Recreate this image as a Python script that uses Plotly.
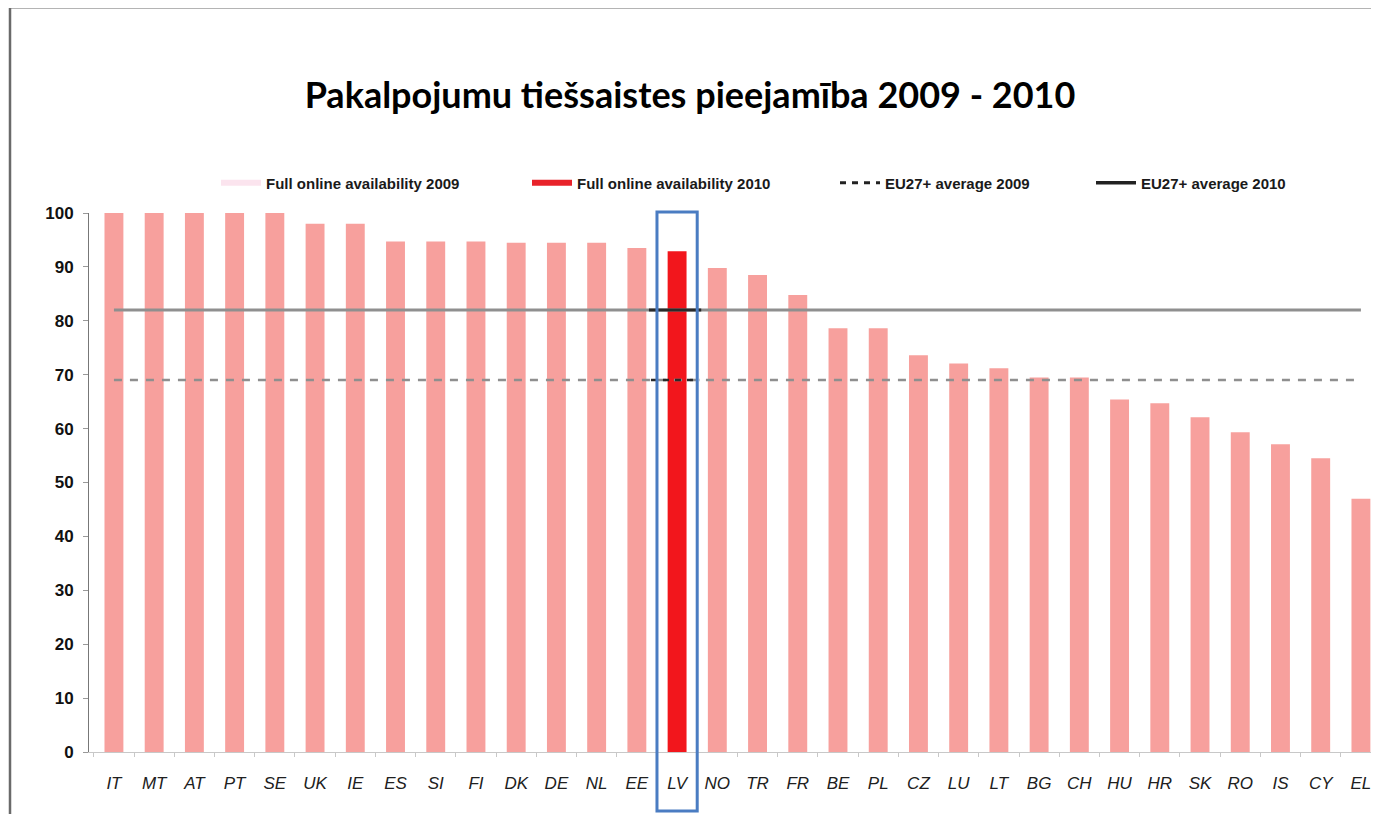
import plotly.graph_objects as go

countries = ["IT", "MT", "AT", "PT", "SE", "UK", "IE", "ES", "SI", "FI", "DK", "DE", "NL", "EE", "LV",
             "NO", "TR", "FR", "BE", "PL", "CZ", "LU", "LT", "BG", "CH", "HU", "HR", "SK", "RO", "IS", "CY", "EL"]
availability_2010 = [100, 100, 100, 100, 100, 98, 98, 94.7, 94.7, 94.7, 94.5, 94.5, 94.5, 93.5, 92.9,
                     89.8, 88.5, 84.8, 78.6, 78.6, 73.6, 72.1, 71.2, 69.5, 69.5, 65.4, 64.7, 62.1, 59.3, 57.1, 54.5, 47.0]
eu_avg_2009 = 69
eu_avg_2010 = 82
highlight = "LV"
yticks = [0, 10, 20, 30, 40, 50, 60, 70, 80, 90, 100]

title_text = "Pakalpojumu tiešsaistes pieejamība 2009 - 2010"
legend_names = ["Full online availability 2009", "Full online availability 2010",
                "EU27+ average 2009", "EU27+ average 2010"]

PINK = "#f7a09d"
RED = "#f2161c"
LINE_GREY = "#8f8f8f"

# the page body has an 8px margin; figure is sized to fit the 1379x814 window
O = 8
W, H = 1379 - O, 814 - O
ML, MR, MT, MB = 89 - O, 4, 213 - O, 62
PW, PH = W - ML - MR, H - MT - MB


def px_x(p):  # page pixel -> paper x
    return (p - O - ML) / PW


def px_y(p):  # page pixel -> paper y
    return (H - MB - (p - O)) / PH


bar_colors = [RED if c == highlight else PINK for c in countries]

fig = go.Figure()

fig.add_trace(go.Bar(
    x=countries, y=availability_2010,
    marker=dict(color=bar_colors, line=dict(width=0)),
    name=legend_names[1], showlegend=False,
))

fig.add_trace(go.Scatter(
    x=countries, y=[eu_avg_2010] * len(countries), mode="lines",
    line=dict(color=LINE_GREY, width=3), name=legend_names[3], showlegend=False,
))
fig.add_trace(go.Scatter(
    x=countries, y=[eu_avg_2009] * len(countries), mode="lines",
    line=dict(color=LINE_GREY, width=2.5, dash="8px,8px"), name=legend_names[2], showlegend=False,
))

# legend entries, each in its own legend so they can be placed like the original
legend_styles = [
    dict(color="#fbe4ee", width=6),
    dict(color="#e8222a", width=6),
    dict(color="#222222", width=3, dash="6px,6px"),
    dict(color="#222222", width=3.5),
]
legend_ids = ["legend", "legend2", "legend3", "legend4"]
legend_text_x = [266, 577, 885, 1141]
for name, st, lid in zip(legend_names, legend_styles, legend_ids):
    fig.add_trace(go.Scatter(x=[None], y=[None], mode="lines", line=st, name=name,
                             showlegend=True, legend=lid))

legend_font = dict(family="Liberation Sans, Arial, sans-serif", size=15, color="#1a1a1a", weight="bold")
legend_layout = {}
for lid, tx in zip(legend_ids, legend_text_x):
    legend_layout[lid] = dict(orientation="h", x=px_x(tx - 50), y=px_y(183), xanchor="left", yanchor="middle",
                              font=legend_font, bgcolor="rgba(0,0,0,0)", itemwidth=40)

li = countries.index(highlight)
shapes = [
    # dark segments of the averages at the highlighted country
    dict(type="line", xref="x", yref="y", x0=li - 0.7, x1=li + 0.6, y0=eu_avg_2010, y1=eu_avg_2010,
         line=dict(color="#2a2a2a", width=3)),
    dict(type="line", xref="x", yref="y", x0=li - 0.65, x1=li + 0.55, y0=eu_avg_2009, y1=eu_avg_2009,
         line=dict(color="#2a2a2a", width=2.5, dash="6px,6px")),
    # highlight box
    dict(type="rect", xref="x", yref="paper", x0=li - 0.5, x1=li + 0.5,
         y0=px_y(811), y1=px_y(212), line=dict(color="#4a7cc2", width=3), fillcolor="rgba(0,0,0,0)"),
    # outer frame
    dict(type="line", xref="paper", yref="paper", x0=px_x(10), x1=px_x(10), y0=px_y(814), y1=px_y(6),
         line=dict(color="#6a6a6a", width=2.5)),
    dict(type="line", xref="paper", yref="paper", x0=px_x(9), x1=px_x(1379), y0=px_y(7), y1=px_y(7),
         line=dict(color="#6a6a6a", width=3)),
    dict(type="line", xref="paper", yref="paper", x0=px_x(1376), x1=px_x(1376), y0=px_y(814), y1=px_y(30),
         line=dict(color="#dddddd", width=1)),
]

fig.update_layout(
    width=W, height=H,
    margin=dict(l=ML, r=MR, t=MT, b=MB),
    paper_bgcolor="white", plot_bgcolor="white",
    bargap=0.53,
    title=dict(text="<b>" + title_text + "</b>", x=px_x(690), xref="paper", xanchor="center",
               y=1 - (95 - O) / H, yref="container", yanchor="middle",
               font=dict(family="Lato, Open Sans, sans-serif", size=36, color="#000000")),
    xaxis=dict(type="category", categoryorder="array", categoryarray=countries,
               range=[-0.62, len(countries) - 1 + 0.35],
               showline=True, linecolor="#c8c8c8", linewidth=1,
               ticks="outside", tickson="boundaries", ticklen=4, tickcolor="#c8c8c8",
               ticklabelstandoff=16,
               tickfont=dict(family="Liberation Sans, Arial, sans-serif", size=17, color="#202020",
                             style="italic"),
               showgrid=False, zeroline=False, fixedrange=True),
    yaxis=dict(range=[0, 100], tickvals=yticks, ticktext=[str(v) for v in yticks],
               showline=True, linecolor="#777777", linewidth=1,
               ticks="outside", ticklen=5, tickcolor="#999999",
               ticklabelstandoff=6,
               tickfont=dict(family="Liberation Sans, Arial, sans-serif", size=17, color="#111111",
                             weight="bold"),
               showgrid=False, zeroline=False, fixedrange=True),
    shapes=shapes,
    **legend_layout,
)

fig.write_html("out.html")
